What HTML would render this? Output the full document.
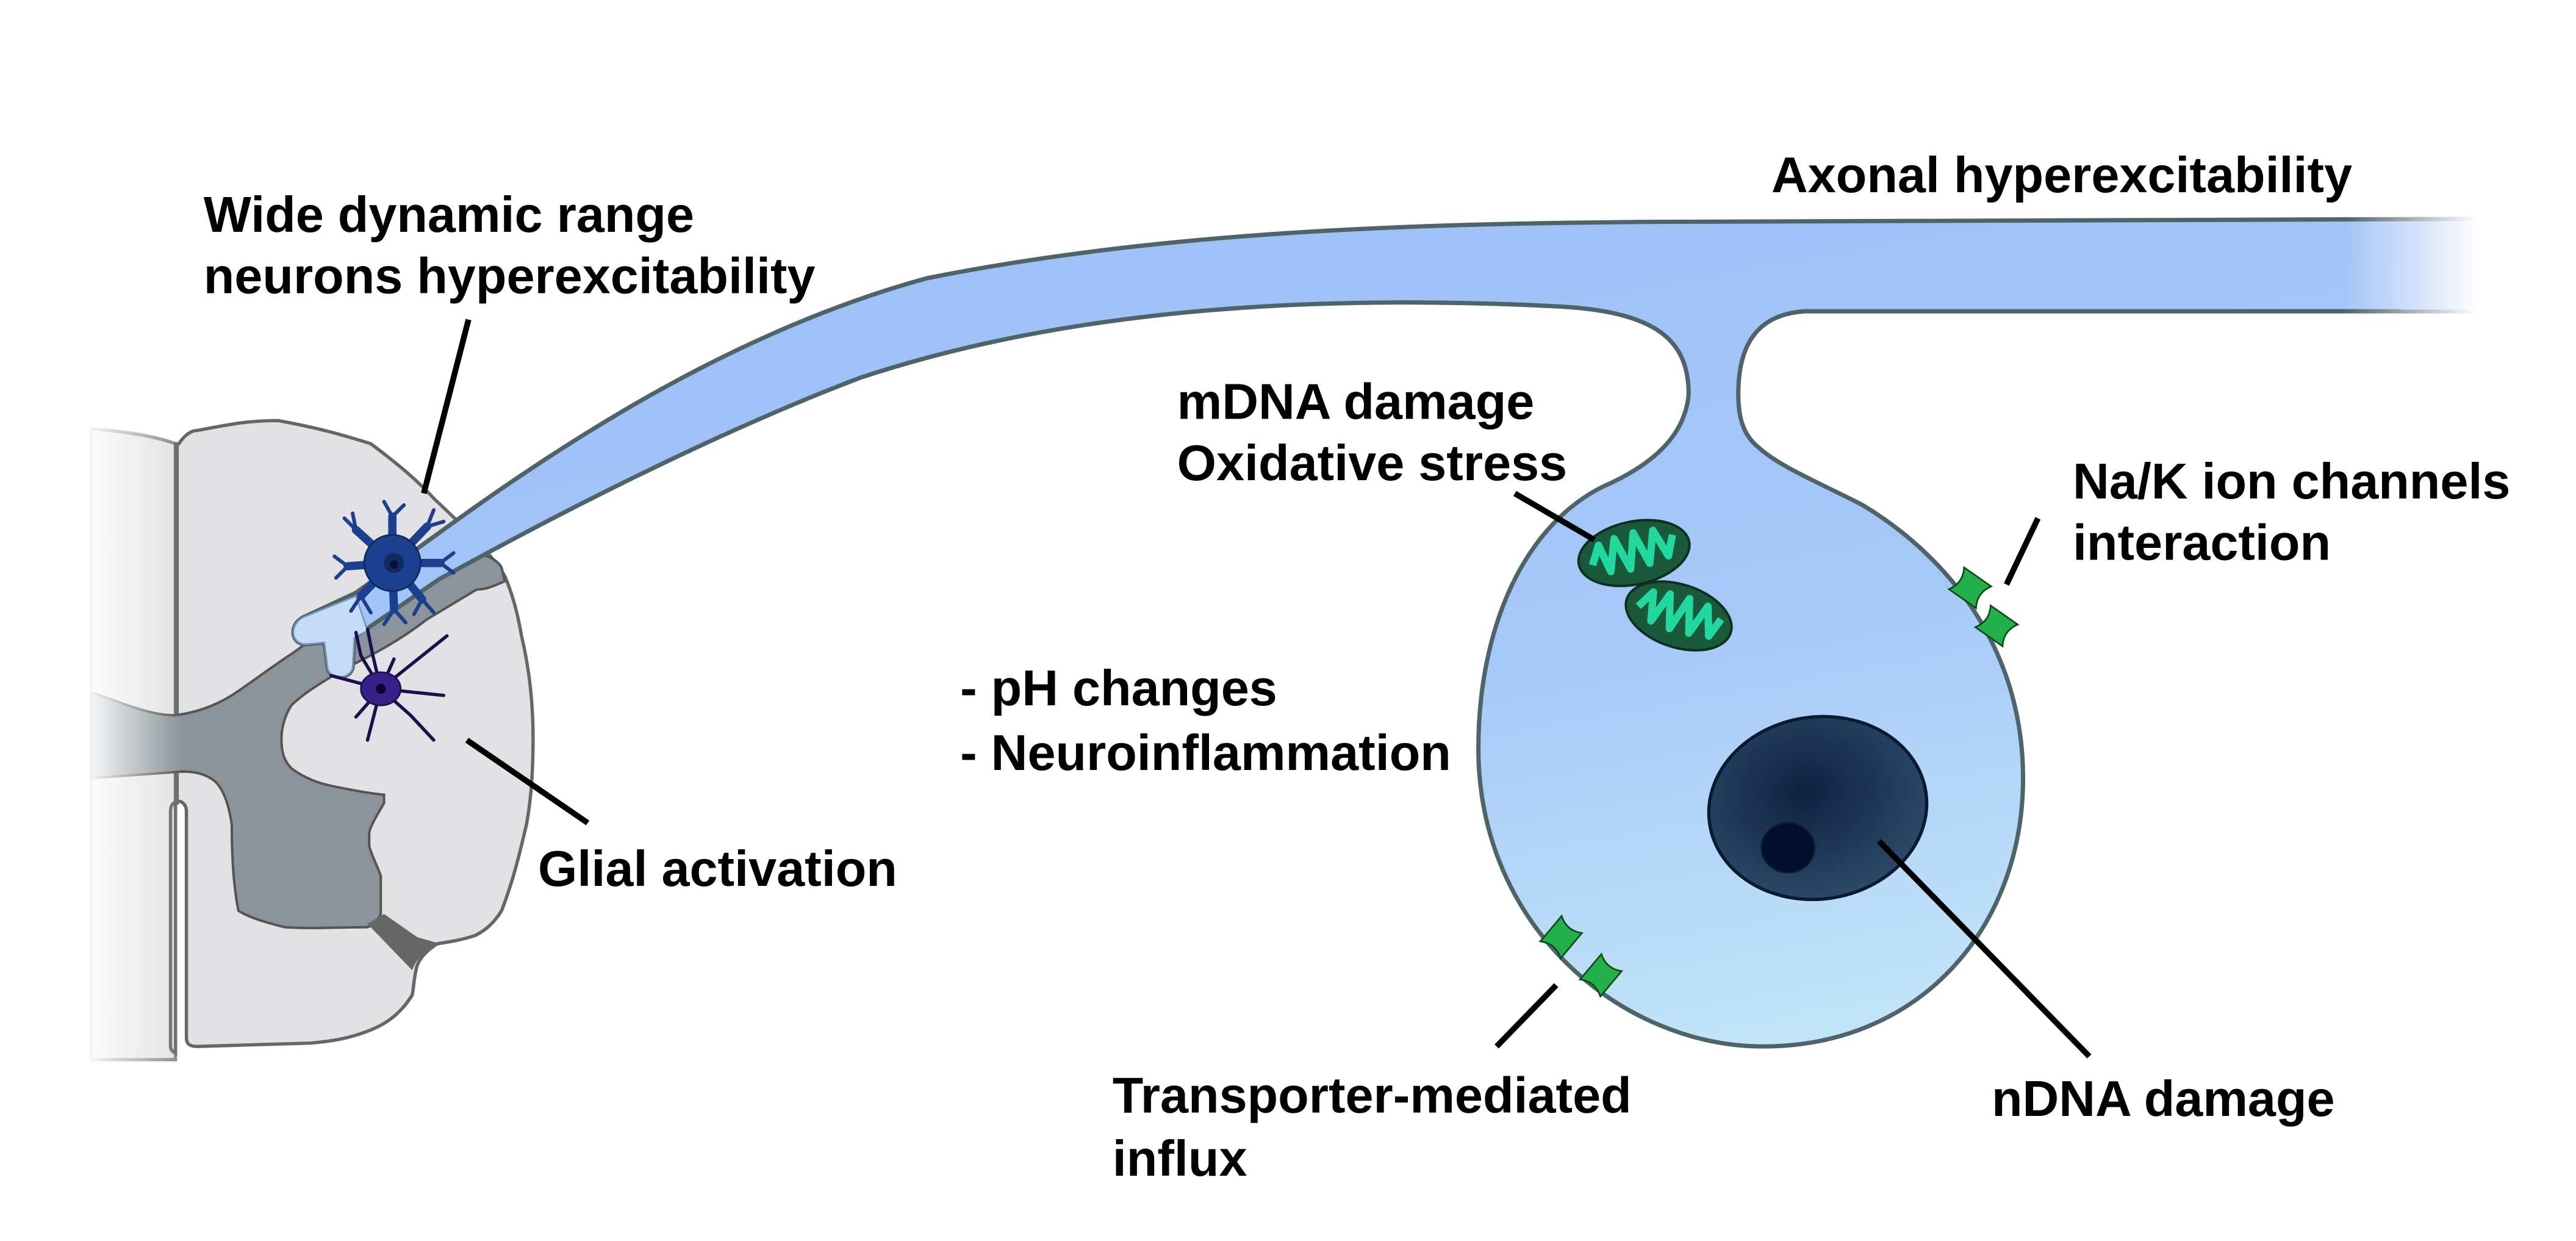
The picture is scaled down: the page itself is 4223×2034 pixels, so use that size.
<!DOCTYPE html>
<html><head><meta charset="utf-8"><style>
html,body{margin:0;padding:0;background:#fff;}
svg{display:block;}
text{font-family:"Liberation Sans",Arial,sans-serif;font-weight:bold;font-size:30.5px;fill:#000;}
</style></head><body>
<svg width="4223" height="2034" viewBox="0 0 1556 749.5" preserveAspectRatio="none" xmlns="http://www.w3.org/2000/svg">
<defs>
<linearGradient id="fadeL" x1="0" x2="1" y1="0" y2="0">
<stop offset="0" stop-color="#fff" stop-opacity="1"/><stop offset="1" stop-color="#fff" stop-opacity="0"/>
</linearGradient>
<linearGradient id="soma" x1="0.2" y1="0" x2="0.7" y2="1" gradientUnits="objectBoundingBox">
<stop offset="0" stop-color="#9ebff8"/><stop offset="0.55" stop-color="#a6c8f8"/><stop offset="1" stop-color="#c4e6f8"/>
</linearGradient>
<linearGradient id="mfade" x1="0" x2="1556" y1="0" y2="0" gradientUnits="userSpaceOnUse">
<stop offset="0" stop-color="#fff"/><stop offset="0.91" stop-color="#fff"/><stop offset="0.962" stop-color="#000"/>
</linearGradient>
<mask id="m"><rect x="0" y="0" width="1556" height="750" fill="url(#mfade)"/></mask>
<radialGradient id="nuc" cx="0.45" cy="0.4" r="0.6">
<stop offset="0" stop-color="#0e2240"/><stop offset="1" stop-color="#2c4868"/>
</radialGradient>
</defs>

<!-- spinal cord -->
<path d="M55,259 C80,261 95,264 106,268 L106,640 L55,640 Z" fill="#e2e2e4" stroke="#888" stroke-width="2"/>
<path d="M108,268 C112,262 116,260 119,260 C140,256 150,254 168,254 C190,258 205,262 224,268 C240,280 252,290 262,301 C280,318 295,332 305,348 C310,360 313,372 315,384 C320,405 322,425 322,446 C322,465 321,482 318,498 C314,515 310,532 303,550 C298,558 293,562 287,565 C278,568 270,569 264,570 C258,574 254,578 252,583 C250,590 250,596 249,601 C242,612 234,618 224,622 C212,627 200,629 187,630 L119,632 C114,632 112.6,630 112.6,627 L112.6,490 C112.6,486 110,484 108,484 C105,484 103,486 103,490 L103,632 C103,635 106,636 106,636 L106,268 Z" fill="#e2e2e4" stroke="#666" stroke-width="2"/>
<line x1="107" y1="268" x2="107" y2="486" stroke="#666" stroke-width="2"/>
<path d="M55,418 C75,425 90,432 106,432 C120,430 130,426 140,420 C155,410 165,402 176,395 C186,388 196,380 206,374 C230,360 260,345 288,335 C296,335 302,340 303,343 L305,351 C298,354 294,356 288,356 C278,362 268,368 258,374 C240,388 222,397 206,405 C195,412 184,418 176,426 C172,432 170,440 170,446 C170,455 172,460 176,464 C184,470 192,473 202,475 C212,477 222,479 232,480 L232,485 C228,492 224,498 223,503 L223,511 C225,518 228,523 230,529 L230,552 C228,557 224,560 221,560 C205,560 188,561 172,560 C160,557 150,554 144,550 C141,535 140,515 140,498 C138,485 135,477 130,472 C124,467 117,466 110,466 L55,470 Z" fill="#8a949a" stroke="#555" stroke-width="1.5"/>
<path d="M222,558 L249,586 C252,578 258,573 266,570 L252,566 L232,552 Z" fill="#666"/>
<rect x="50" y="250" width="60" height="400" fill="url(#fadeL)"/>

<!-- axon + soma -->
<g mask="url(#m)">
<path d="M1556,132 L1000,134 C850,135 700,140 560,168 C450,198 350,260 265,322 L215,358 L185,372 C174,376 175,390 186,389 L196,388 L198,404 C200,411 212,410 213,403 L214,385 L265,350 C330,314 430,262 520,228 C650,185 800,178 940,185 C1000,188 1020,205 1020,238 C1018,262 1000,280 968,294 C920,318 893,380 893,452 C893,560 980,632 1065,632 C1160,632 1222,560 1222,470 C1222,390 1175,335 1125,305 C1100,292 1075,282 1062,270 C1052,262 1050,250 1050,238 C1050,210 1060,190 1090,188 L1556,188 Z" fill="url(#soma)" stroke="#4e6468" stroke-width="2.6"/>
<rect x="1450" y="134" width="110" height="53" fill="#a0c2f8"/>
</g>
<path d="M185,372 C174,376 175,390 186,389 L196,388 L198,404 C200,411 212,410 213,403 L214,385 L222,381 L215,360 Z" fill="#c4dcf8" stroke="#7a96b0" stroke-width="1"/>

<!-- blue neuron -->
<g stroke-linecap="round" fill="none">
<g stroke="#1d3f8f" stroke-width="5">
<path d="M237,340 L215,320 M237,340 L237,312 M237,340 L258,318 M237,340 L266,340 M237,340 L255,362 M237,340 L238,368 M237,340 L218,360 M237,340 L210,342"/>
</g>
<g stroke="#1d3f8f" stroke-width="2.2">
<path d="M215,320 L208,313 M215,320 L213,310 M237,312 L232,303 M237,312 L244,305 M258,318 L262,308 M258,318 L268,315 M266,340 L274,334 M266,340 L274,346 M255,362 L262,370 M255,362 L250,371 M238,368 L232,377 M238,368 L245,376 M218,360 L212,369 M218,360 L224,370 M210,342 L202,336 M210,342 L203,349"/>
</g>
</g>
<circle cx="237" cy="340" r="17" fill="#1d3f8f" stroke="#10285a" stroke-width="1"/>
<circle cx="238" cy="340" r="6" fill="#132a60"/><circle cx="238" cy="341" r="2.5" fill="#050f30"/>

<!-- glial -->
<g stroke="#1a1050" stroke-linecap="round" fill="none" stroke-width="2">
<path d="M230,416 L200,408 M230,416 L215,433 M230,416 L222,447 M230,416 L248,432 L262,447 M230,416 L268,420 M230,416 L250,400 L270,384 M230,416 L238,398 M230,416 L225,395 L222,380 M230,416 L218,396 L215,382"/>
</g>
<ellipse cx="230" cy="416" rx="12" ry="10" fill="#3a1e8a" stroke="#1a1050" stroke-width="1"/>
<circle cx="230" cy="416" r="3" fill="#0a0630"/>

<!-- mitochondria -->
<g transform="translate(987,334) rotate(-12)">
<ellipse cx="0" cy="0" rx="34" ry="19" fill="#1a5a3a" stroke="#0c3020" stroke-width="1.5"/>
<path d="M-26,2 L-20,-9 L-16,8 L-10,-11 L-4,9 L2,-12 L8,8 L14,-11 L20,6 L25,-6" stroke="#20d8a0" stroke-width="4.5" fill="none" stroke-linejoin="round"/>
</g>
<g transform="translate(1014,372) rotate(18)">
<ellipse cx="0" cy="0" rx="33" ry="19" fill="#1a5a3a" stroke="#0c3020" stroke-width="1.5"/>
<path d="M-25,2 L-19,-9 L-15,8 L-9,-11 L-3,9 L3,-12 L9,8 L15,-11 L21,6 L25,-6" stroke="#20d8a0" stroke-width="4.5" fill="none" stroke-linejoin="round"/>
</g>

<!-- channels -->
<g fill="#22b04a" stroke="#0c4a1a" stroke-width="1">
<path transform="translate(1190,355) rotate(35)" d="M-10,-8 L10,-8 Q5,0 10,8 L-10,8 Q-5,0 -10,-8 Z"/>
<path transform="translate(1206,378) rotate(35)" d="M-10,-8 L10,-8 Q5,0 10,8 L-10,8 Q-5,0 -10,-8 Z"/>
<path transform="translate(943,566) rotate(-50)" d="M-10,-8 L10,-8 Q5,0 10,8 L-10,8 Q-5,0 -10,-8 Z"/>
<path transform="translate(967,589) rotate(-50)" d="M-10,-8 L10,-8 Q5,0 10,8 L-10,8 Q-5,0 -10,-8 Z"/>
</g>

<!-- nucleus -->
<ellipse cx="1098" cy="488" rx="66" ry="55" transform="rotate(-8 1098 488)" fill="url(#nuc)" stroke="#0a1a30" stroke-width="2"/>
<ellipse cx="1080" cy="512" rx="16" ry="15" fill="#020e2c" stroke="#0a1a30" stroke-width="1"/>

<!-- leader lines -->
<g stroke="#000" stroke-width="3.5">
<line x1="283" y1="193" x2="256" y2="298"/>
<line x1="282" y1="447" x2="355" y2="497"/>
<line x1="915" y1="298" x2="963" y2="326"/>
<line x1="1231" y1="313" x2="1212" y2="353"/>
<line x1="940" y1="595" x2="904" y2="632"/>
<line x1="1135" y1="508" x2="1262" y2="638"/>
</g>

<!-- labels -->
<text x="123" y="140">Wide dynamic range</text>
<text x="123" y="177">neurons hyperexcitability</text>
<text x="1070" y="116">Axonal hyperexcitability</text>
<text x="711" y="253">mDNA damage</text>
<text x="711" y="290">Oxidative stress</text>
<text x="1252" y="301">Na/K ion channels</text>
<text x="1252" y="338">interaction</text>
<text x="580" y="426">- pH changes</text>
<text x="580" y="465">- Neuroinflammation</text>
<text x="325" y="535">Glial activation</text>
<text x="672" y="672">Transporter-mediated</text>
<text x="672" y="710">influx</text>
<text x="1203" y="674">nDNA damage</text>
</svg>
</body></html>
